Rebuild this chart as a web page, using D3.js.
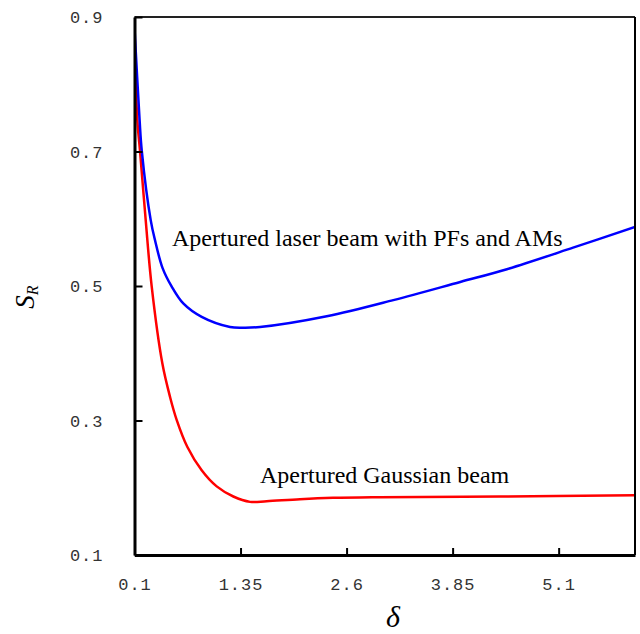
<!DOCTYPE html>
<html>
<head>
<meta charset="utf-8">
<script src="https://cdn.jsdelivr.net/npm/d3@7"></script>
<style>
  body { margin: 0; background: #fff; }
  svg { display: block; }
</style>
</head>
<body>
<svg id="chart" width="640" height="634"></svg>
<script>
// values
const xTicks = [0.1, 1.35, 2.6, 3.85, 5.1];
const yTicks = [0.1, 0.3, 0.5, 0.7, 0.9];

const laserDelta = [0.1, 0.16, 0.186, 0.291, 0.342, 0.43, 0.539, 0.675, 0.892, 1.226, 1.4, 1.579, 2.366, 3.151, 3.94, 4.49, 5.27, 6.0];
const laserSR    = [0.884, 0.747, 0.701, 0.598, 0.568, 0.527, 0.499, 0.474, 0.454, 0.439, 0.438, 0.439, 0.455, 0.479, 0.506, 0.525, 0.557, 0.588];

const gaussDelta = [0.1, 0.133, 0.165, 0.232, 0.303, 0.428, 0.519, 0.597, 0.722, 0.892, 1.069, 1.265, 1.462, 1.658, 2.051, 2.44, 2.99, 4.41, 6.0];
const gaussSR    = [0.888, 0.747, 0.701, 0.598, 0.499, 0.385, 0.335, 0.301, 0.261, 0.226, 0.202, 0.187, 0.179, 0.18, 0.183, 0.185, 0.186, 0.187, 0.189];

const svg = d3.select('svg#chart');
const plotL = 134.5, plotR = 635, plotT = 17, plotB = 555;

const x = d3.scaleLinear().domain([0.1, 6.0]).range([plotL, plotR]);
const y = d3.scaleLinear().domain([0.1, 0.9]).range([plotB, plotT]);

svg.append('clipPath').attr('id', 'plot')
  .append('rect')
    .attr('x', plotL).attr('y', plotT)
    .attr('width', plotR - plotL).attr('height', plotB - plotT);

const line = d3.line()
  .x(d => x(d[0]))
  .y(d => y(d[1]))
  .curve(d3.curveCatmullRom.alpha(0.5));

const curves = [
  { pts: d3.zip(gaussDelta, gaussSR), color: '#ff0000' },
  { pts: d3.zip(laserDelta, laserSR), color: '#0000ff' }
];

svg.append('g').attr('clip-path', 'url(#plot)')
  .selectAll('path').data(curves).enter()
  .append('path')
    .attr('d', d => line(d.pts))
    .attr('fill', 'none')
    .attr('stroke', d => d.color)
    .attr('stroke-width', 2.5);

// frame: top and right thin, left and bottom heavy
svg.append('line')
  .attr('x1', plotL).attr('x2', plotR).attr('y1', plotT).attr('y2', plotT)
  .attr('stroke', '#222').attr('stroke-width', 2);
svg.append('line')
  .attr('x1', plotR).attr('x2', plotR).attr('y1', plotT).attr('y2', plotB)
  .attr('stroke', '#000').attr('stroke-width', 2);

const xAxis = svg.append('g')
  .attr('transform', `translate(0,${plotB})`)
  .call(d3.axisBottom(x).tickValues(xTicks).tickSizeInner(-7).tickSizeOuter(0).tickFormat(d3.format('')));
const yAxis = svg.append('g')
  .attr('transform', `translate(${plotL},0)`)
  .call(d3.axisLeft(y).tickValues(yTicks).tickSizeInner(-8).tickSizeOuter(0).tickFormat(d => d.toFixed(1)));

[xAxis, yAxis].forEach(a => {
  a.select('.domain').attr('stroke', '#000').attr('stroke-width', 3);
  a.selectAll('.tick line').attr('stroke', '#000').attr('stroke-width', 2);
  a.selectAll('.tick text')
    .attr('fill', '#333')
    .style('font-family', '"Liberation Mono", monospace')
    .style('font-size', '17px')
    .style('letter-spacing', '1px');
});
xAxis.selectAll('.tick text').attr('y', 35).attr('dy', 0);
yAxis.selectAll('.tick text').attr('x', -31).attr('dy', '0.35em');

// axis titles
const yTitle = svg.append('text')
  .attr('transform', 'translate(34,297) rotate(-90)')
  .attr('text-anchor', 'middle')
  .style('font-family', '"Liberation Serif", serif')
  .style('font-style', 'italic')
  .style('font-size', '27px');
yTitle.append('tspan').text('S');
yTitle.append('tspan').attr('dy', 4).style('font-size', '16px').text('R');

svg.append('text')
  .attr('x', 393).attr('y', 627)
  .attr('text-anchor', 'middle')
  .style('font-family', '"Liberation Serif", serif')
  .style('font-style', 'italic')
  .style('font-size', '30px')
  .text('δ');

// curve labels
const labels = [
  { text: 'Apertured laser beam with PFs and AMs', x: 172, y: 246 },
  { text: 'Apertured Gaussian beam', x: 260, y: 483 }
];
svg.selectAll('text.label').data(labels).enter()
  .append('text')
    .attr('class', 'label')
    .attr('x', d => d.x).attr('y', d => d.y)
    .style('font-family', '"Liberation Serif", serif')
    .style('font-size', '24px')
    .text(d => d.text);
</script>
</body>
</html>
